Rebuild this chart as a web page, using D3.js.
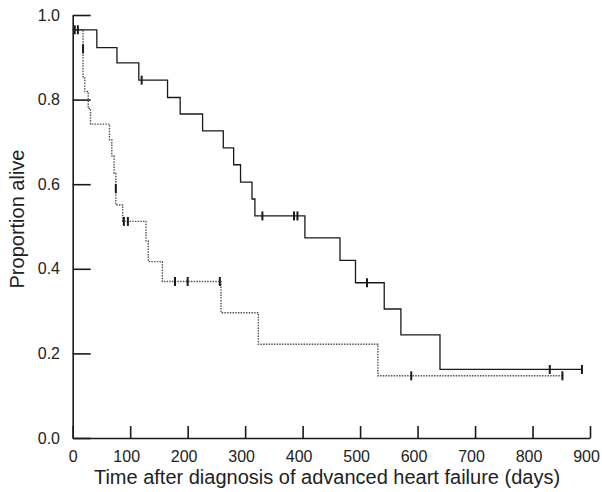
<!DOCTYPE html>
<html>
<head>
<meta charset="utf-8">
<script src="https://cdn.jsdelivr.net/npm/d3@7"></script>
<style>
  body { margin: 0; background: #fff; }
  text { font-family: "Liberation Sans", Arial, sans-serif; fill: #222; }
</style>
</head>
<body>
<svg id="chart"></svg>
<script>
// group 1 (solid line): step times (days) and proportion alive
const solidTimes = [0, 42, 77, 115, 165, 187, 226, 262, 280, 292, 312, 317, 404, 465, 492, 542, 571, 639, 886];
const solidSurv = [0.965, 0.923, 0.887, 0.846, 0.805, 0.766, 0.726, 0.686, 0.646, 0.605, 0.565, 0.525, 0.473, 0.42, 0.367, 0.305, 0.244, 0.162, 0.162];
const solidCensorTimes = [3.5, 9, 120, 330, 385, 391, 512, 830, 886];
const solidCensorSurv = [0.965, 0.965, 0.846, 0.525, 0.525, 0.525, 0.367, 0.162, 0.162];

// group 2 (dotted line)
const dotTimes = [0, 18, 21, 27, 31, 64, 68, 72, 75, 87, 127.5, 131.5, 156, 258, 323, 531, 852];
const dotSurv = [0.965, 0.854, 0.819, 0.779, 0.742, 0.705, 0.667, 0.626, 0.551, 0.512, 0.466, 0.417, 0.37, 0.296, 0.2215, 0.147, 0.147];
const dotCensorTimes = [18, 75, 89, 96, 178, 200, 256, 589, 852];
const dotCensorSurv = [0.92, 0.59, 0.512, 0.512, 0.37, 0.37, 0.37, 0.147, 0.147];

const xTicks = [0, 100, 200, 300, 400, 500, 600, 700, 800, 900];
const yTicks = [0, 0.2, 0.4, 0.6, 0.8, 1.0];

const width = 602, height = 492;
const svg = d3.select("#chart").attr("width", width).attr("height", height);

const x = d3.scaleLinear().domain([0, 900]).range([72.7, 590]);
const y = d3.scaleLinear().domain([0, 1]).range([438, 15]);

const xAxis = svg.append("g")
  .attr("transform", `translate(0,${y(0)})`)
  .call(d3.axisBottom(x).tickValues(xTicks).tickSizeInner(-12).tickSizeOuter(0).tickPadding(13));

const yAxis = svg.append("g")
  .attr("transform", `translate(${x(0)},0)`)
  .call(d3.axisLeft(y).tickValues(yTicks).tickFormat(d3.format(".1f")).tickSizeInner(-18).tickSizeOuter(0).tickPadding(12.7));

[xAxis, yAxis].forEach((g) => {
  g.select(".domain").attr("stroke", "#1a1a1a").attr("stroke-width", 1.6);
  g.selectAll(".tick line").attr("stroke", "#1a1a1a").attr("stroke-width", 1.6);
  g.selectAll(".tick text").attr("font-size", 16).attr("fill", "#222")
    .attr("font-family", "'Liberation Sans', Arial, sans-serif");
});
// labels past zero sit a little left of their ticks in the original
xAxis.selectAll(".tick text").attr("dx", (d) => (d === 0 ? 0 : -4));

svg.append("text")
  .attr("x", 327)
  .attr("y", 483.5)
  .attr("text-anchor", "middle")
  .attr("font-size", 20)
  .text("Time after diagnosis of advanced heart failure (days)");

svg.append("text")
  .attr("transform", `translate(24,219) rotate(-90)`)
  .attr("text-anchor", "middle")
  .attr("font-size", 20)
  .text("Proportion alive");

const step = d3.line()
  .x((d) => x(d[0]))
  .y((d) => y(d[1]))
  .curve(d3.curveStepAfter);

svg.append("path")
  .datum(d3.zip(dotTimes, dotSurv))
  .attr("fill", "none")
  .attr("stroke", "#555")
  .attr("stroke-width", 1.4)
  .attr("stroke-dasharray", "1.5 1.2")
  .attr("d", step);

svg.append("path")
  .datum(d3.zip(solidTimes, solidSurv))
  .attr("fill", "none")
  .attr("stroke", "#1a1a1a")
  .attr("stroke-width", 1.3)
  .attr("d", step);

const censors = d3.zip(solidCensorTimes, solidCensorSurv).concat(d3.zip(dotCensorTimes, dotCensorSurv));

svg.selectAll(".censor")
  .data(censors)
  .enter()
  .append("line")
  .attr("class", "censor")
  .attr("x1", (d) => x(d[0]))
  .attr("x2", (d) => x(d[0]))
  .attr("y1", (d) => y(d[1]) - 4.5)
  .attr("y2", (d) => y(d[1]) + 4.5)
  .attr("stroke", "#1a1a1a")
  .attr("stroke-width", 2);
</script>
</body>
</html>
